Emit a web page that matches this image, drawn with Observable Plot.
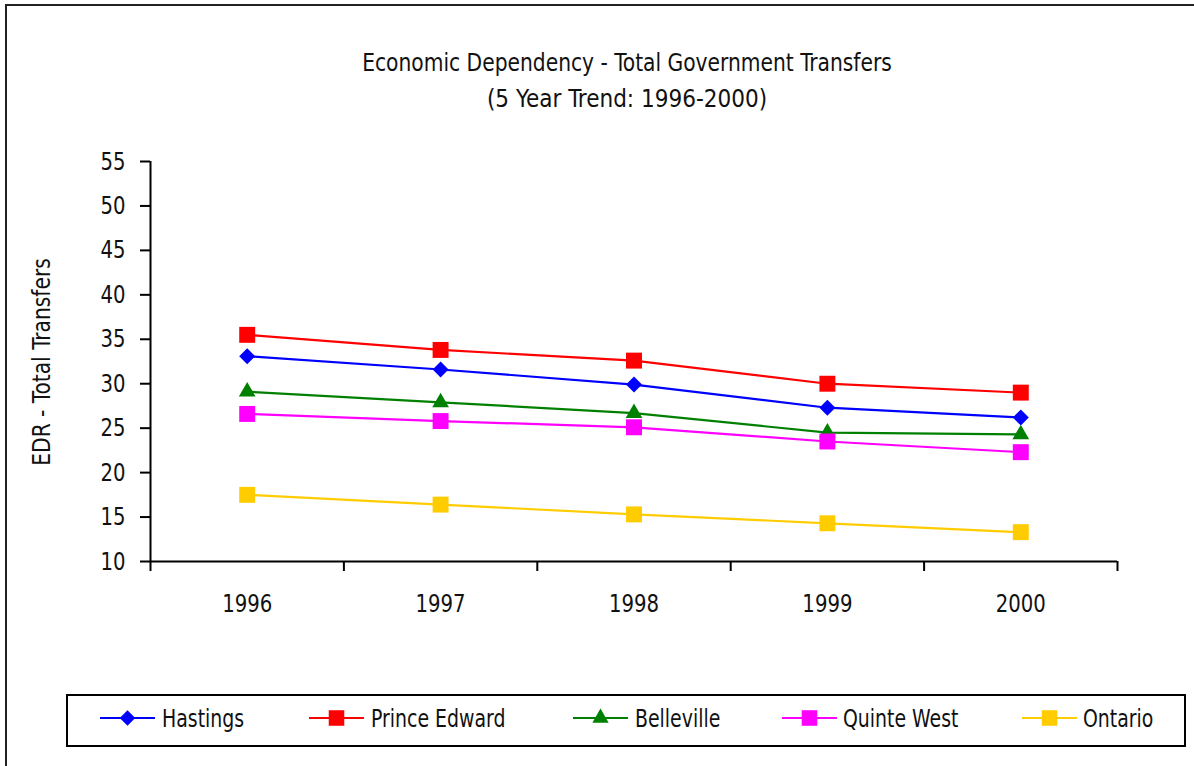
<!DOCTYPE html>
<html>
<head>
<meta charset="utf-8">
<script src="https://cdn.jsdelivr.net/npm/d3@7"></script>
<script src="https://cdn.jsdelivr.net/npm/@observablehq/plot@0.6"></script>
<style>
  html, body { margin: 0; padding: 0; background: #fff; }
  body { width: 1194px; height: 766px; position: relative; overflow: hidden;
         font-family: "DejaVu Sans Condensed", sans-serif; color: #111; }
  #frame { position: absolute; left: 5px; top: 4px; width: 1300px; height: 900px; border: 2px solid #222; box-sizing: border-box; }
  #chart { position: absolute; left: 0; top: 0; }
  #legendbox { position: absolute; left: 66px; top: 694px; width: 1120px; height: 53px; border: 2px solid #000; box-sizing: border-box; }
  #legend { position: absolute; left: 0; top: 0; }
</style>
</head>
<body>
<div id="frame"></div>
<div id="chart"></div>
<div id="legendbox"></div>
<svg id="legend" width="1194" height="766"></svg>
<script>
const titleLines = ["Economic Dependency - Total Government Transfers", "(5 Year Trend: 1996-2000)"];
const years = [1996, 1997, 1998, 1999, 2000];
const seriesNames = ["Hastings", "Prince Edward", "Belleville", "Quinte West", "Ontario"];
const hastings = [33.1, 31.6, 29.9, 27.3, 26.2];
const princeEdward = [35.5, 33.8, 32.6, 30.0, 29.0];
const belleville = [29.1, 27.9, 26.7, 24.5, 24.3];
const quinteWest = [26.6, 25.8, 25.1, 23.5, 22.3];
const ontario = [17.5, 16.4, 15.3, 14.3, 13.3];
const yTicks = [10, 15, 20, 25, 30, 35, 40, 45, 50, 55];
const yLabel = "EDR - Total Transfers";

const seriesValues = [hastings, princeEdward, belleville, quinteWest, ontario];
const colors = ["#0000ff", "#ff0000", "#008000", "#ff00ff", "#ffcc00"];
const symbols = ["diamond2", "square", "triangle", "square", "square"];
const symR = [7.2, 9, 6.2, 9, 9];

const rows = seriesNames.flatMap((s, i) => years.map((y, j) => ({series: s, year: y, value: seriesValues[i][j]})));
const bounds = [years[0] - 0.5, ...years.map(y => y + 0.5)];

const FONT = '"DejaVu Sans Condensed", sans-serif';

function squeeze(el, f) {
  const L = el.getComputedTextLength();
  el.setAttribute("textLength", (L * f).toFixed(1));
  el.setAttribute("lengthAdjust", "spacingAndGlyphs");
}

const marks = [
  Plot.axisY({ticks: yTicks, tickSize: 10, tickPadding: 15, tickFormat: d => d, fontSize: 25, label: null, stroke: "#000", strokeWidth: 2, color: "#111"}),
  Plot.axisX({ticks: bounds, tickSize: 10, tickFormat: () => "", label: null, stroke: "#000", strokeWidth: 2}),
  Plot.axisX({ticks: years, tickSize: 0, tickPadding: 33, tickFormat: d => String(d), fontSize: 25, label: null, color: "#111"}),
  Plot.ruleX([bounds[0]], {stroke: "#000", strokeWidth: 2}),
  Plot.ruleY([10], {stroke: "#000", strokeWidth: 2}),
];
seriesNames.forEach((s, i) => {
  const d = rows.filter(r => r.series === s);
  marks.push(Plot.line(d, {x: "year", y: "value", stroke: colors[i], strokeWidth: 2.2}));
  marks.push(Plot.dot(d, {x: "year", y: "value", fill: colors[i], stroke: "none", symbol: symbols[i], r: symR[i]}));
});

const plot = Plot.plot({
  width: 1194,
  height: 640,
  marginLeft: 150,
  marginRight: 77,
  marginTop: 161,
  marginBottom: 79,
  style: {fontFamily: FONT, fontSize: "25px", background: "transparent", color: "#111"},
  x: {type: "linear", domain: [bounds[0], bounds[bounds.length - 1]]},
  y: {domain: [10, 55]},
  marks
});
document.getElementById("chart").appendChild(plot);

// squeeze tick labels to the narrow face of the original
d3.select(plot).selectAll("g[aria-label$='tick label'] text").each(function() { squeeze(this, 0.875); });

const svg = d3.select(plot);
// title
titleLines.forEach((t, i) => {
  const el = svg.append("text")
    .attr("x", 627).attr("y", 71 + i * 36)
    .attr("text-anchor", "middle")
    .attr("font-size", 25).attr("fill", "#111").attr("font-family", FONT)
    .text(t).node();
  squeeze(el, i === 0 ? 0.9 : 0.96);
});
// rotated y label
const yl = svg.append("text")
  .attr("transform", "translate(50,362) rotate(-90)")
  .attr("text-anchor", "middle")
  .attr("font-size", 25).attr("fill", "#111").attr("font-family", FONT)
  .text(yLabel).node();
squeeze(yl, 0.9);

// legend
const legendPos = [[100, 155, 162], [309, 364, 371], [573, 628, 635], [782, 837, 843], [1022, 1077, 1083]];
const symFns = {diamond2: d3.symbolDiamond2, square: d3.symbolSquare, triangle: d3.symbolTriangle};
const lg = d3.select("#legend");
const ly = 718;
seriesNames.forEach((s, i) => {
  const [x1, x2, tx] = legendPos[i];
  lg.append("line").attr("x1", x1).attr("x2", x2).attr("y1", ly).attr("y2", ly).attr("stroke", colors[i]).attr("stroke-width", 2.2);
  const size = Math.PI * symR[i] * symR[i] * 0.95;
  lg.append("path").attr("d", d3.symbol(symFns[symbols[i]], size)()).attr("transform", `translate(${(x1 + x2) / 2},${ly})`).attr("fill", colors[i]);
  const el = lg.append("text").attr("x", tx).attr("y", ly + 9).attr("font-size", 25).attr("fill", "#111").attr("font-family", FONT).text(s).node();
  squeeze(el, 0.84);
});
</script>
</body>
</html>
